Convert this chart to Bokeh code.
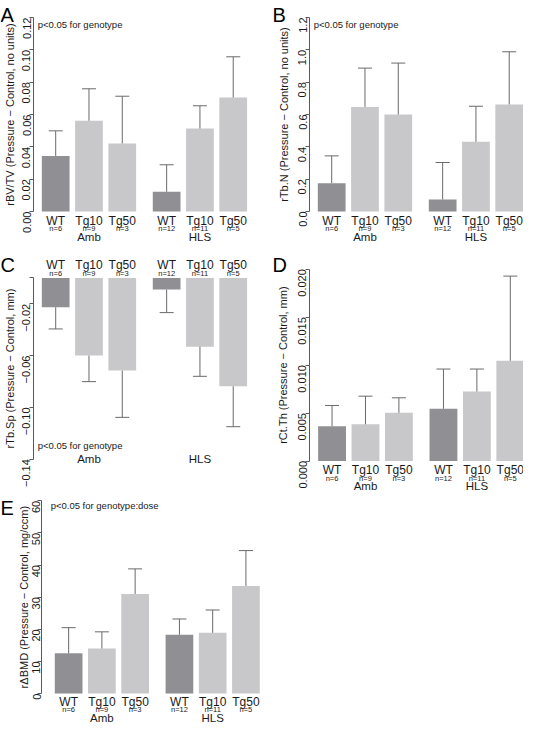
import math
from bokeh.plotting import figure
from bokeh.layouts import column, row
from bokeh.models import ColumnDataSource, Whisker, TeeHead, FixedTicker, Range1d
from bokeh.core.properties import value
from bokeh.embed import file_html
from bokeh.resources import INLINE

# ---------------- data ----------------
genotypes = ["WT", "Tg10", "Tg50", "WT", "Tg10", "Tg50"]
n_labels = ["n=6", "n=9", "n=3", "n=12", "n=11", "n=5"]
groups = ["Amb", "HLS"]
bar_x = [0.5, 1.7, 2.9, 4.5, 5.7, 6.9]
group_x = [1.7, 5.7]

bvtv_mean = [0.0344, 0.0561, 0.0421, 0.0122, 0.0513, 0.0705]
bvtv_upper = [0.0499, 0.0759, 0.0713, 0.0289, 0.0654, 0.0957]
bvtv_ticks = [0.0, 0.02, 0.04, 0.06, 0.08, 0.10, 0.12]
bvtv_tick_labels = ["0.00", "0.02", "0.04", "0.06", "0.08", "0.10", "0.12"]

tbn_mean = [0.175, 0.647, 0.600, 0.074, 0.431, 0.662]
tbn_upper = [0.344, 0.887, 0.918, 0.303, 0.651, 0.988]
tbn_ticks = [0.0, 0.2, 0.4, 0.6, 0.8, 1.0, 1.2]
tbn_tick_labels = ["0.0", "0.2", "0.4", "0.6", "0.8", "1.0", "1.2"]

tbsp_mean = [-0.0227, -0.0600, -0.0716, -0.0090, -0.0531, -0.0837]
tbsp_lower = [-0.0394, -0.0801, -0.1077, -0.0268, -0.0760, -0.1149]
tbsp_ticks = [0.0, -0.02, -0.06, -0.10, -0.14]
tbsp_tick_labels = ["", "\u22120.02", "\u22120.06", "\u22120.10", "\u22120.14"]

ctth_mean = [0.00362, 0.00383, 0.00503, 0.00545, 0.00724, 0.01045]
ctth_upper = [0.00579, 0.00676, 0.00659, 0.00959, 0.00959, 0.01928]
ctth_ticks = [0.0, 0.005, 0.010, 0.015, 0.020]
ctth_tick_labels = ["0.000", "0.005", "0.010", "0.015", "0.020"]

bmd_mean = [12.5, 14.0, 31.0, 18.3, 18.9, 33.5]
bmd_upper = [20.5, 19.2, 38.8, 23.2, 26.0, 44.5]
bmd_ticks = [0, 10, 20, 30, 40, 50, 60]
bmd_tick_labels = ["0", "10", "20", "30", "40", "50", "60"]

# ---------------- style ----------------
FONT = value("Liberation Sans")
WT_COLOR = "#909094"
TG_COLOR = "#c8c8ca"
ERR_COLOR = "#6a6a6a"
AXIS_COLOR = "#5a5a5a"
TEXT_COLOR = "#1a1a1a"
bar_colors = [WT_COLOR if g == "WT" else TG_COLOR for g in genotypes]


def panel(letter, mean, err, ylabel, ticks, tick_labels, lo, hi,
          fig_w, fig_h, axis_px, px_unit, axis_x,
          ypx_lo, ypx_hi, letter_pos, title_dx, label_standoff,
          ptext=None, ptext_dy=0.0, negative=False, lab_dy=(9, 17, 25)):
    # frame == whole figure; the y axis is drawn at a fixed location inside it
    k = (ypx_lo - ypx_hi) / (hi - lo)
    y_start = lo - (fig_h - ypx_lo) / k
    y_end = hi + ypx_hi / k
    x_start = axis_x - axis_px / px_unit
    x_end = x_start + fig_w / px_unit

    p = figure(width=fig_w, height=fig_h, output_backend="svg", toolbar_location=None,
               x_range=Range1d(x_start, x_end), y_range=Range1d(y_start, y_end),
               min_border_left=0, min_border_right=0, min_border_top=0,
               min_border_bottom=0, x_axis_location=None, y_axis_location="left")
    p.outline_line_color = None
    p.xgrid.visible = False
    p.ygrid.visible = False
    p.background_fill_color = "white"
    p.border_fill_color = "white"

    ax = p.yaxis[0]
    ax.fixed_location = axis_x
    ax.ticker = FixedTicker(ticks=ticks)
    ax.major_label_overrides = {t: l for t, l in zip(ticks, tick_labels)}
    ax.bounds = (lo, hi)
    ax.minor_tick_line_color = None
    ax.major_tick_in = 0
    ax.major_tick_out = 4
    ax.axis_line_color = AXIS_COLOR
    ax.major_tick_line_color = AXIS_COLOR
    ax.major_label_orientation = math.pi / 2
    ax.major_label_standoff = label_standoff
    ax.major_label_text_font = "Liberation Sans"
    ax.major_label_text_font_size = "11px"
    ax.major_label_text_color = TEXT_COLOR

    base = [0.0] * len(mean)
    src = ColumnDataSource(dict(x=bar_x, top=mean, bottom=base, err=err, color=bar_colors,
                                geno=genotypes, n=n_labels))
    p.vbar(x="x", top="top", bottom="bottom", width=1.0, fill_color="color",
           line_color=None, source=src)

    if negative:
        w = Whisker(base="x", lower="err", upper="top", source=src, line_color=ERR_COLOR,
                    line_width=1, upper_head=None,
                    lower_head=TeeHead(size=14, line_color=ERR_COLOR, line_width=1),
                    level="overlay")
    else:
        w = Whisker(base="x", lower="top", upper="err", source=src, line_color=ERR_COLOR,
                    line_width=1, lower_head=None,
                    upper_head=TeeHead(size=14, line_color=ERR_COLOR, line_width=1),
                    level="overlay")
    p.add_layout(w)

    gsrc = ColumnDataSource(dict(x=group_x, g=groups))
    common = dict(text_font=FONT, text_align="center", text_baseline="middle",
                  text_color=TEXT_COLOR)
    if negative:
        p.text(x="x", y=0.0, text="geno", source=src, text_font_size="12px",
               y_offset=-12.7, **common)
        p.text(x="x", y=0.0, text="n", source=src, text_font_size="7.5px",
               y_offset=-4.4, **common)
        p.text(x="x", y=lo, text="g", source=gsrc, text_font_size="11.5px",
               y_offset=0, **common)
    else:
        d1, d2, d3 = lab_dy
        p.text(x="x", y=0.0, text="geno", source=src, text_font_size="12px",
               y_offset=d1, **common)
        p.text(x="x", y=0.0, text="n", source=src, text_font_size="7.5px",
               y_offset=d2, **common)
        p.text(x="x", y=0.0, text="g", source=gsrc, text_font_size="11.5px",
               y_offset=d3, **common)

    if ptext is not None:
        yref = lo if negative else hi
        p.text(x=[-0.15], y=[yref], text=[ptext], text_font=FONT, text_font_size="9.5px",
               text_align="left", text_baseline="middle", y_offset=ptext_dy,
               text_color=TEXT_COLOR)

    # panel letter (top-left corner of the panel)
    lx, ly = letter_pos
    p.text(x=[x_start], y=[y_end], text=[letter], x_offset=lx, y_offset=ly,
           text_font=FONT, text_font_size="20px", text_align="left",
           text_baseline="alphabetic", text_color="black")
    # y-axis title, parallel to the axis
    p.text(x=[axis_x], y=[(lo + hi) / 2.0], text=[ylabel], x_offset=title_dx,
           angle=math.pi / 2, text_font=FONT, text_font_size="11px",
           text_align="center", text_baseline="middle", text_color=TEXT_COLOR)
    return p


LW, RW = 257, 266
H1, H2, H3 = 244, 250, 230

pA = panel("A", bvtv_mean, bvtv_upper, "rBV/TV (Pressure \u2212 Control, no units)",
           bvtv_ticks, bvtv_tick_labels, 0.0, 0.12,
           LW, H1, 33, 27.74, -0.30, 211, 17, (0, 14.5), -24, 3,
           ptext="p<0.05 for genotype", ptext_dy=7.3)
pB = panel("B", tbn_mean, tbn_upper, "rTb.N (Pressure \u2212 Control, no units)",
           tbn_ticks, tbn_tick_labels, 0.0, 1.2,
           RW, H1, 52, 27.74, -0.30, 211, 17, (15, 14.5), -26, 3,
           ptext="p<0.05 for genotype", ptext_dy=7.3)
pC = panel("C", tbsp_mean, tbsp_lower, "rTb.Sp (Pressure \u2212 Control, mm)",
           tbsp_ticks, tbsp_tick_labels, -0.14, 0.0,
           LW, H2, 33, 27.74, -0.30, 214.7, 33.4, (0, 20), -24, 3,
           ptext="p<0.05 for genotype", ptext_dy=-14, negative=True)
pD = panel("D", ctth_mean, ctth_upper, "rCt.Th (Pressure \u2212 Control, mm)",
           ctth_ticks, ctth_tick_labels, 0.0, 0.02,
           RW, H2, 52, 27.85, -0.31, 216.5, 24.7, (15, 20), -27, 3,
           lab_dy=(9, 17, 24.5))
pE = panel("E", bmd_mean, bmd_upper, "r\u0394BMD (Pressure \u2212 Control, mg/ccm)",
           bmd_ticks, bmd_tick_labels, 0, 60,
           290, H3, 41, 27.7, -0.48, 199, 6.3, (0, 13), -18, 1,
           ptext="p<0.05 for genotype:dose", ptext_dy=4.7, lab_dy=(8, 16, 24))

layout = column(row(pA, pB), row(pC, pD), pE)
open("out.html", "w").write(file_html(layout, INLINE))
